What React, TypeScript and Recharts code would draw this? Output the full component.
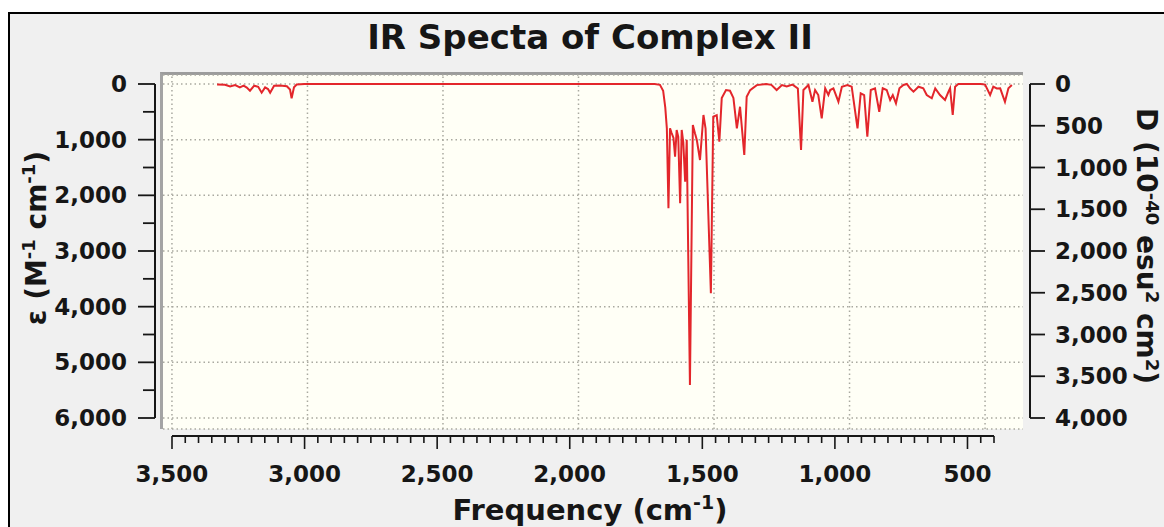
import { LineChart, Line, XAxis, YAxis, CartesianGrid, ReferenceLine, Label } from 'recharts';

const FONT = "'DejaVu Sans', Verdana, sans-serif";
const INK = '#161616';
const RED = '#e3262b';
const GRID = '#a9a9a0';

// IR spectrum: wavenumber (cm-1) and epsilon (M-1 cm-1)
const freq = [
  3330, 3300, 3281, 3262, 3244, 3230, 3218, 3206, 3190, 3175, 3162, 3149, 3138, 3130, 3115,
  3093, 3067, 3055, 3049, 3040, 3030, 3000, 1680, 1660, 1648, 1640, 1634, 1628, 1622, 1616,
  1609, 1603, 1597, 1591, 1584, 1578, 1572, 1565, 1559, 1547, 1536, 1528, 1521, 1509, 1496,
  1488, 1468, 1459, 1446, 1436, 1427, 1411, 1396, 1383, 1370, 1358, 1342, 1333, 1320, 1295,
  1260, 1240, 1220, 1200, 1182, 1160, 1140, 1128, 1119, 1100, 1085, 1075, 1063, 1050, 1037,
  1025, 1018, 1006, 987, 974, 953, 937, 915, 903, 890, 878, 865, 849, 833, 820,
  805, 792, 782, 770, 757, 742, 729, 717, 704, 685, 667, 654, 635, 622, 604,
  585, 572, 566, 556, 547, 535, 450, 434, 415, 403, 390, 377, 359, 346, 333,
];
const eps = [
  10, 15, 45, 20, 60, 30, 65, 120, 30, 50, 156, 60, 90, 156, 30,
  25, 40, 100, 257, 60, 10, 0, 0, 15, 120, 420, 800, 2233, 796, 880,
  970, 1306, 826, 950, 2143, 826, 1050, 1755, 1000, 5407, 736, 886, 1006, 1365, 557,
  800, 3760, 587, 560, 1036, 250, 108, 120, 250, 796, 408, 1275, 228, 110, 20,
  0, 15, 108, 20, 45, 10, 80, 1186, 108, 18, 318, 108, 198, 616, 77,
  198, 108, 77, 318, 48, 18, 48, 796, 167, 198, 947, 108, 77, 498, 77,
  108, 287, 198, 347, 77, 18, 0, 77, 138, 48, 77, 198, 257, 77, 198,
  287, 138, 77, 557, 48, 0, 0, 10, 198, 48, 80, 77, 318, 77, 18,
];

const xMajorTicks = [3500, 3000, 2500, 2000, 1500, 1000, 500];
const X_MINOR_STEP = 50;
const X_AXIS_RANGE = [400, 3500];
const epsTicks = [0, 1000, 2000, 3000, 4000, 5000, 6000];
const EPS_MINOR_STEP = 500;
const dTicks = [0, 500, 1000, 1500, 2000, 2500, 3000, 3500, 4000];

const spectrum = freq.map((f, i) => ({ freq: f, eps: eps[i] }));

const xAllTicks: number[] = [];
for (let v = X_AXIS_RANGE[0]; v <= X_AXIS_RANGE[1]; v += X_MINOR_STEP) xAllTicks.push(v);
const epsAllTicks: number[] = [];
for (let v = 0; v <= 6000; v += EPS_MINOR_STEP) epsAllTicks.push(v);

// the plot box runs a bit past the drawn axes; the dotted grid uses its own,
// slightly wider spaced scale, so map grid values onto the data scale
const FREQ_DOMAIN = [291, 3534];
const GRID_DOMAIN = [360, 3533];
const EPS_DOMAIN = [-162, 6198];
const gridToFreq = (t: number) => {
  const f = (GRID_DOMAIN[1] - t) / (GRID_DOMAIN[1] - GRID_DOMAIN[0]);
  return FREQ_DOMAIN[1] - f * (FREQ_DOMAIN[1] - FREQ_DOMAIN[0]);
};

const W = 1164;
const H = 527;

const fmt = (v: number) => v.toLocaleString('en-US');

const labelStyle = { fontFamily: FONT, fontWeight: 700, fill: INK };

function FreqTick({ x, y, payload }: any) {
  const major = payload.value % 500 === 0;
  return (
    <g>
      <line x1={x} y1={y} x2={x} y2={y + (major ? 13 : 7)} stroke={INK} strokeWidth={1.6} />
      {major && (
        <text x={x} y={y + 46} textAnchor="middle" fontSize={23} {...labelStyle}>
          {fmt(payload.value)}
        </text>
      )}
    </g>
  );
}

function EpsTick({ x, y, payload }: any) {
  const major = payload.value % 1000 === 0;
  return (
    <g>
      <line x1={x - (major ? 17 : 12)} y1={y} x2={x} y2={y} stroke={INK} strokeWidth={1.8} />
      {major && (
        <text x={x - 28} y={y + 8} textAnchor="end" fontSize={23} {...labelStyle}>
          {fmt(payload.value)}
        </text>
      )}
    </g>
  );
}

function DTick({ x, y, payload }: any) {
  return (
    <g>
      <line x1={x} y1={y} x2={x + 15} y2={y} stroke={INK} strokeWidth={1.8} />
      <text x={x + 25} y={y + 8} textAnchor="start" fontSize={23} {...labelStyle}>
        {fmt(payload.value)}
      </text>
    </g>
  );
}

function FreqTitle({ viewBox }: any) {
  const cx = viewBox.x + viewBox.width / 2 + 7;
  return (
    <text x={cx} y={viewBox.y + 84} textAnchor="middle" fontSize={29} {...labelStyle}>
      Frequency (cm
      <tspan dy={-11} fontSize={19}>-1</tspan>
      <tspan dy={11}>)</tspan>
    </text>
  );
}

function EpsTitle({ viewBox }: any) {
  const bx = viewBox.x + 36;
  const cy = viewBox.y + viewBox.height / 2 - 13;
  return (
    <text
      x={bx}
      y={cy}
      transform={`rotate(-90, ${bx}, ${cy})`}
      textAnchor="middle"
      fontSize={28}
      {...labelStyle}
    >
      ε (M
      <tspan dy={-11} fontSize={18}>-1</tspan>
      <tspan dy={11}> cm</tspan>
      <tspan dy={-11} fontSize={18}>-1</tspan>
      <tspan dy={11}>)</tspan>
    </text>
  );
}

function DTitle({ viewBox }: any) {
  const bx = viewBox.x + 107;
  const cy = viewBox.y + viewBox.height / 2 - 5;
  return (
    <text
      x={bx}
      y={cy}
      transform={`rotate(90, ${bx}, ${cy})`}
      textAnchor="middle"
      fontSize={28}
      {...labelStyle}
    >
      D (10
      <tspan dy={-9} fontSize={18}>-40</tspan>
      <tspan dy={9}> esu</tspan>
      <tspan dy={-9} fontSize={18}>2</tspan>
      <tspan dy={9}> cm</tspan>
      <tspan dy={-9} fontSize={18}>2</tspan>
      <tspan dy={9}>)</tspan>
    </text>
  );
}

const layer = { position: 'absolute' as const, left: 0, top: 0 };

export default function App() {
  return (
    <div
      style={{
        position: 'fixed',
        left: 0,
        top: 0,
        width: W,
        height: H,
        overflow: 'hidden',
        background: '#fff',
      }}
    >
      {/* window frame */}
      <div
        style={{
          position: 'absolute',
          left: 8,
          top: 12,
          width: 1200,
          height: 600,
          border: '2px solid #000',
          background: '#f0f0f0',
        }}
      />
      {/* plot box */}
      <div
        style={{
          position: 'absolute',
          left: 160,
          top: 72,
          width: 863,
          height: 357,
          boxSizing: 'border-box',
          background: '#fffff6',
          borderTop: '3px solid #9c9c9c',
          borderLeft: '3px solid #a4a4a4',
        }}
      />

      {/* grid + spectrum */}
      <div style={layer}>
        <LineChart width={W} height={H} data={spectrum} margin={{ top: 75, right: 141, bottom: 98, left: 163 }}>
          <XAxis xAxisId="freq" dataKey="freq" type="number" domain={FREQ_DOMAIN} reversed allowDataOverflow hide />
          <YAxis yAxisId="eps" type="number" domain={EPS_DOMAIN} ticks={epsTicks} reversed allowDataOverflow hide />
          <CartesianGrid
            xAxisId="freq"
            yAxisId="eps"
            vertical={false}
            stroke={GRID}
            strokeWidth={1.5}
            strokeDasharray="1.5 3"
          />
          {xMajorTicks.map((t) => (
            <ReferenceLine
              key={t}
              x={gridToFreq(t)}
              xAxisId="freq"
              yAxisId="eps"
              stroke={GRID}
              strokeWidth={1.5}
              strokeDasharray="1.5 3"
            />
          ))}
          <Line
            xAxisId="freq"
            yAxisId="eps"
            type="linear"
            dataKey="eps"
            stroke={RED}
            strokeWidth={2}
            dot={false}
            isAnimationActive={false}
          />
        </LineChart>
      </div>

      {/* bottom frequency axis, drawn below the plot box */}
      <div style={layer}>
        <LineChart width={W} height={H} data={spectrum} margin={{ top: 10, right: 170, bottom: 0, left: 172 }}>
          <XAxis
            dataKey="freq"
            type="number"
            domain={X_AXIS_RANGE}
            ticks={xAllTicks}
            interval={0}
            reversed
            allowDataOverflow
            height={91}
            tickSize={0}
            tickMargin={0}
            tickLine={false}
            axisLine={{ stroke: INK, strokeWidth: 2 }}
            tick={<FreqTick />}
          >
            <Label content={<FreqTitle />} />
          </XAxis>
          <YAxis type="number" domain={[0, 1]} hide />
        </LineChart>
      </div>

      {/* epsilon (left) and dipole strength (right) axes */}
      <div style={layer}>
        <LineChart width={W} height={H} data={spectrum} margin={{ top: 84, right: 14, bottom: 109, left: 10 }}>
          <XAxis dataKey="freq" type="number" domain={FREQ_DOMAIN} hide />
          <YAxis
            yAxisId="left"
            type="number"
            domain={[0, 6000]}
            ticks={epsAllTicks}
            interval={0}
            reversed
            allowDataOverflow
            width={145}
            tickSize={0}
            tickMargin={0}
            tickLine={false}
            axisLine={{ stroke: INK, strokeWidth: 2 }}
            tick={<EpsTick />}
          >
            <Label content={<EpsTitle />} />
          </YAxis>
          <YAxis
            yAxisId="right"
            orientation="right"
            type="number"
            domain={[0, 4000]}
            ticks={dTicks}
            interval={0}
            reversed
            allowDataOverflow
            width={120}
            tickSize={0}
            tickMargin={0}
            tickLine={false}
            axisLine={{ stroke: INK, strokeWidth: 2 }}
            tick={<DTick />}
          >
            <Label content={<DTitle />} />
          </YAxis>
        </LineChart>
      </div>

      <div
        style={{
          position: 'absolute',
          left: 290,
          top: 20,
          width: 600,
          textAlign: 'center',
          fontFamily: FONT,
          fontWeight: 700,
          fontSize: 34,
          lineHeight: 1,
          color: INK,
        }}
      >
        IR Specta of Complex II
      </div>
    </div>
  );
}
